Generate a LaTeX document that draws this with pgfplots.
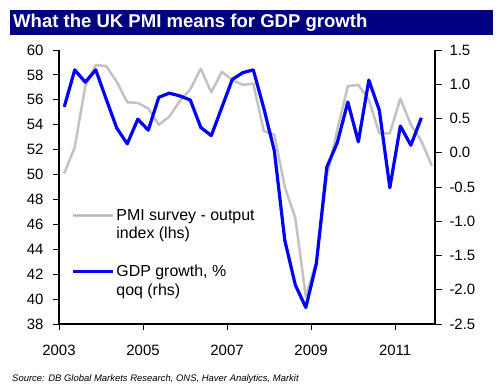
\documentclass[border=0pt]{standalone}
\usepackage{fontspec}
\setmainfont{Liberation Sans}
\usepackage{pgfplots}
\pgfplotsset{compat=1.18}
\definecolor{navy}{RGB}{0,0,128}
\definecolor{gdpblue}{RGB}{0,0,255}
\definecolor{pmigray}{RGB}{200,200,200}
\pgfplotstableread{
x y
2003.125 50.1
2003.375 52.2
2003.625 57.1
2003.875 58.8
2004.125 58.7
2004.375 57.45
2004.625 55.8
2004.875 55.75
2005.125 55.3
2005.375 54.0
2005.625 54.65
2005.875 55.9
2006.125 56.85
2006.375 58.5
2006.625 56.6
2006.875 58.25
2007.125 57.6
2007.375 57.2
2007.625 57.3
2007.875 53.5
2008.125 53.2
2008.375 49.0
2008.625 46.5
2008.875 40.2
2009.125 43.0
2009.375 49.8
2009.625 53.6
2009.875 57.1
2010.125 57.2
2010.375 56.0
2010.625 53.3
2010.875 53.3
2011.125 56.1
2011.375 54.0
2011.625 52.7
2011.875 50.7
}\pmi
\pgfplotstableread{
x y
2003.125 0.67
2003.375 1.21
2003.625 1.03
2003.875 1.21
2004.125 0.78
2004.375 0.36
2004.625 0.13
2004.875 0.49
2005.125 0.33
2005.375 0.81
2005.625 0.87
2005.875 0.83
2006.125 0.77
2006.375 0.37
2006.625 0.25
2006.875 0.66
2007.125 1.07
2007.375 1.17
2007.625 1.21
2007.875 0.65
2008.125 0.03
2008.375 -1.28
2008.625 -1.93
2008.875 -2.26
2009.125 -1.62
2009.375 -0.21
2009.625 0.15
2009.875 0.74
2010.125 0.16
2010.375 1.06
2010.625 0.62
2010.875 -0.51
2011.125 0.39
2011.375 0.11
2011.625 0.51
}\gdp
\begin{document}
\begin{tikzpicture}
\path[use as bounding box] (0bp,0bp) rectangle (500bp,-386bp);
\fill[navy] (10bp,-10bp) rectangle (493bp,-35bp);
\node[anchor=west, text=white, font=\fontsize{18.6}{21}\selectfont\bfseries, inner sep=0] at (13bp,-22.5bp) {What the UK PMI means for GDP growth};
\node[anchor=west, font=\fontsize{9.5}{11}\selectfont\itshape, inner sep=0] at (12bp,-379bp) {Source: DB Global Markets Research, ONS, Haver Analytics, Markit};
\pgfplotsset{
  every axis/.append style={
    scale only axis, width=376bp, height=274bp,
    at={(59bp,-324bp)}, anchor=south west,
    xmin=2003, xmax=2011.95,
    tick align=outside,
    axis line style={-, line width=1.2pt, black},
    major tick style={line width=1pt, black},
    tick label style={font=\fontsize{15}{18}\selectfont},
    /pgf/number format/assume math mode=true,
  }
}
\begin{axis}[
  ymin=38, ymax=60, ytick={38,40,...,60},
  xtick={2003,2005,...,2011},
  x tick label style={/pgf/number format/1000 sep={}, yshift=-12bp},
  y tick label style={xshift=-6bp},
  axis x line*=bottom, axis y line*=left,
  major tick length=6bp,
]
\addplot[draw=pmigray, line width=2.6bp, line join=round,
  postaction={draw=gray!75, line width=0.5bp, dash pattern=on 0.6bp off 1.4bp}] table[x=x,y=y] {\pmi};
\end{axis}
\begin{axis}[
  ymin=-2.5, ymax=1.5, ytick={-2.5,-2,...,1.5},
  axis x line=none, axis y line*=right,
  major tick length=7bp,
  yticklabel style={xshift=4bp, /pgf/number format/.cd, fixed, fixed zerofill, precision=1},
  legend image code/.code={\draw[#1] (0bp,9.35bp) -- (40bp,9.35bp);},
  legend cell align=left,
  legend style={draw=none, fill=none, at={(0.024,0.434)}, anchor=north west,
    cells={align=left}, font=\fontsize{16}{18.7}\selectfont, row sep=21bp},
]
\addlegendimage{draw=pmigray, line width=2.2bp, postaction={draw=gray!70, line width=0.5bp, dash pattern=on 0.6bp off 1.4bp}}
\addlegendentry{PMI survey - output\\index (lhs)}
\addplot[draw=gdpblue, line width=3.2bp, line join=round] table[x=x,y=y] {\gdp};
\addlegendentry{GDP growth, \%\\qoq (rhs)}
\end{axis}
\end{tikzpicture}
\end{document}
